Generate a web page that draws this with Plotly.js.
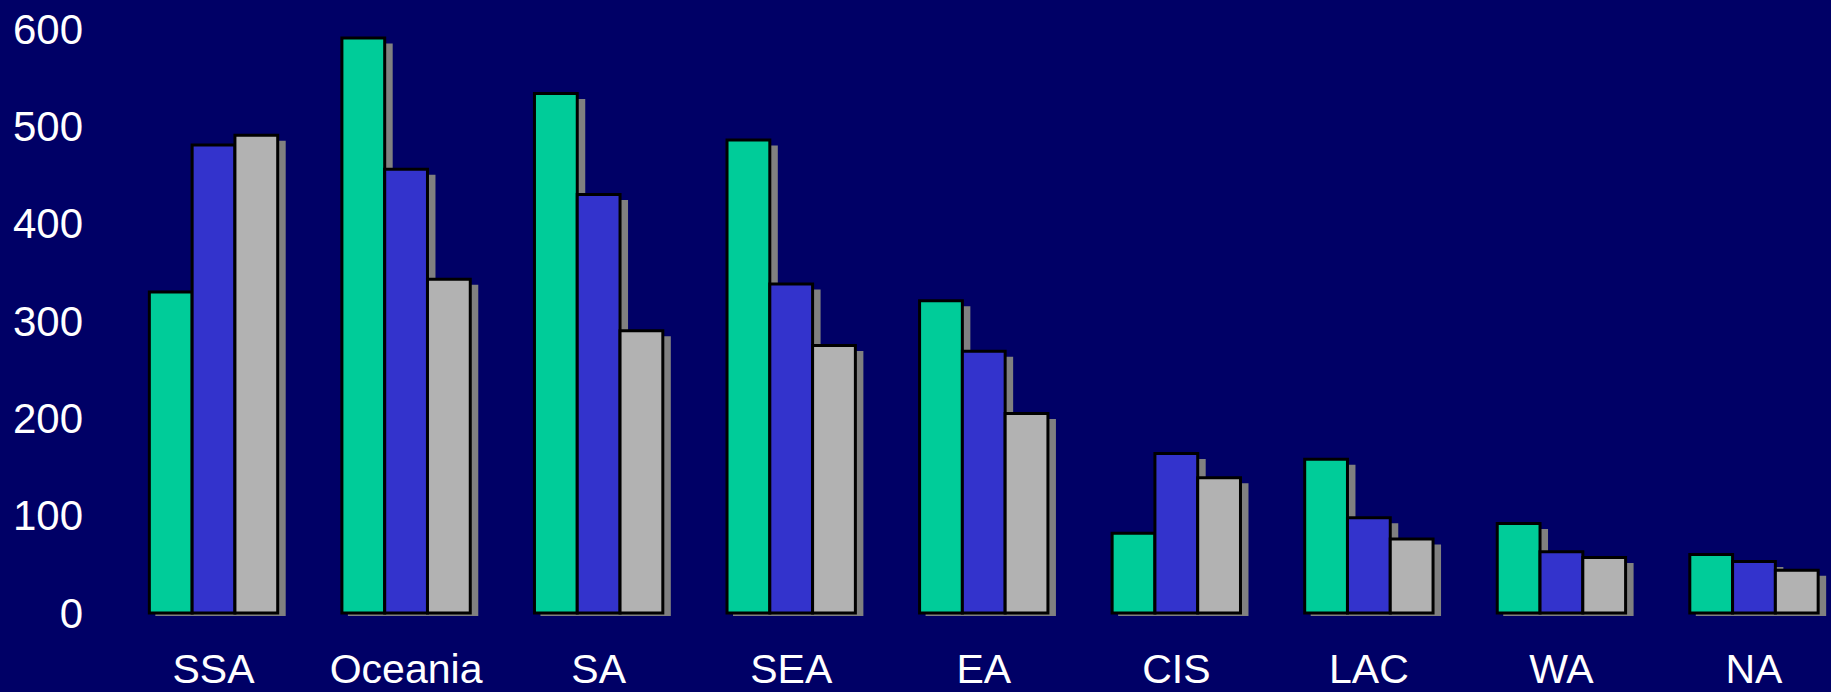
<!DOCTYPE html>
<html>
<head>
<meta charset="utf-8">
<script src="https://cdn.plot.ly/plotly-3.0.1.min.js"></script>
<style>
  html, body { margin: 0; padding: 0; background: #000066; }
  #chart { width: 1831px; height: 692px; }
</style>
</head>
<body>
<div id="chart"></div>
<script>
// Data
const categories = ["SSA", "Oceania", "SA", "SEA", "EA", "CIS", "LAC", "WA", "NA"];
const seriesGreen = [330, 591, 534, 486, 321, 82, 158, 92, 60];
const seriesBlue  = [481, 456, 430, 338, 269, 164, 98, 63, 53];
const seriesGray  = [491, 343, 290, 275, 205, 139, 76, 57, 44];
const yTickValues = [0, 100, 200, 300, 400, 500, 600];

const seriesList = [seriesGreen, seriesBlue, seriesGray];
const colors = ["#00CC99", "#3333CC", "#B2B2B2"];
const shadowColor = "#808080";

// geometry (in axis units)
const pxPerCat = 192.56;
const barW = 0.2222;
const yMin = -3.1, yMax = 630;
const pxPerY = 616 / (yMax - yMin);
const shadowDx = 6 / pxPerCat;
const shadowExtraW = 2 / pxPerCat;
const shadowDy = 5.5 / pxPerY;

const traces = [];
// shadows first (drawn behind)
seriesList.forEach((vals, j) => {
  traces.push({
    type: "bar",
    x: categories,
    y: vals,
    base: categories.map(() => -shadowDy),
    offset: -1.5 * barW + j * barW + shadowDx,
    width: barW + shadowExtraW,
    marker: { color: shadowColor, line: { width: 0 } },
    hoverinfo: "skip",
    showlegend: false
  });
});
seriesList.forEach((vals, j) => {
  traces.push({
    type: "bar",
    x: categories,
    y: vals,
    offset: -1.5 * barW + j * barW,
    width: barW,
    marker: { color: colors[j], line: { color: "#000000", width: 3 } },
    showlegend: false
  });
});

const layout = {
  width: 1831,
  height: 692,
  margin: { l: 98, r: 0, t: 0, b: 76, pad: 0 },
  paper_bgcolor: "#000066",
  plot_bgcolor: "#000066",
  barmode: "overlay",
  font: { family: "Liberation Sans, Arial, sans-serif", color: "#FFFFFF", size: 42 },
  xaxis: {
    type: "category",
    range: [-0.6, 8.4],
    showgrid: false,
    zeroline: false,
    showline: false,
    ticks: "",
    ticklabelstandoff: 25,
    tickfont: { size: 41, color: "#FFFFFF" },
    fixedrange: true
  },
  yaxis: {
    range: [yMin, yMax],
    tickvals: yTickValues,
    ticktext: yTickValues.map(String),
    showgrid: false,
    zeroline: false,
    showline: false,
    ticks: "",
    ticklabelstandoff: 14,
    tickfont: { size: 42, color: "#FFFFFF" },
    fixedrange: true
  }
};

Plotly.newPlot("chart", traces, layout, { displayModeBar: false, staticPlot: true });
</script>
</body>
</html>
